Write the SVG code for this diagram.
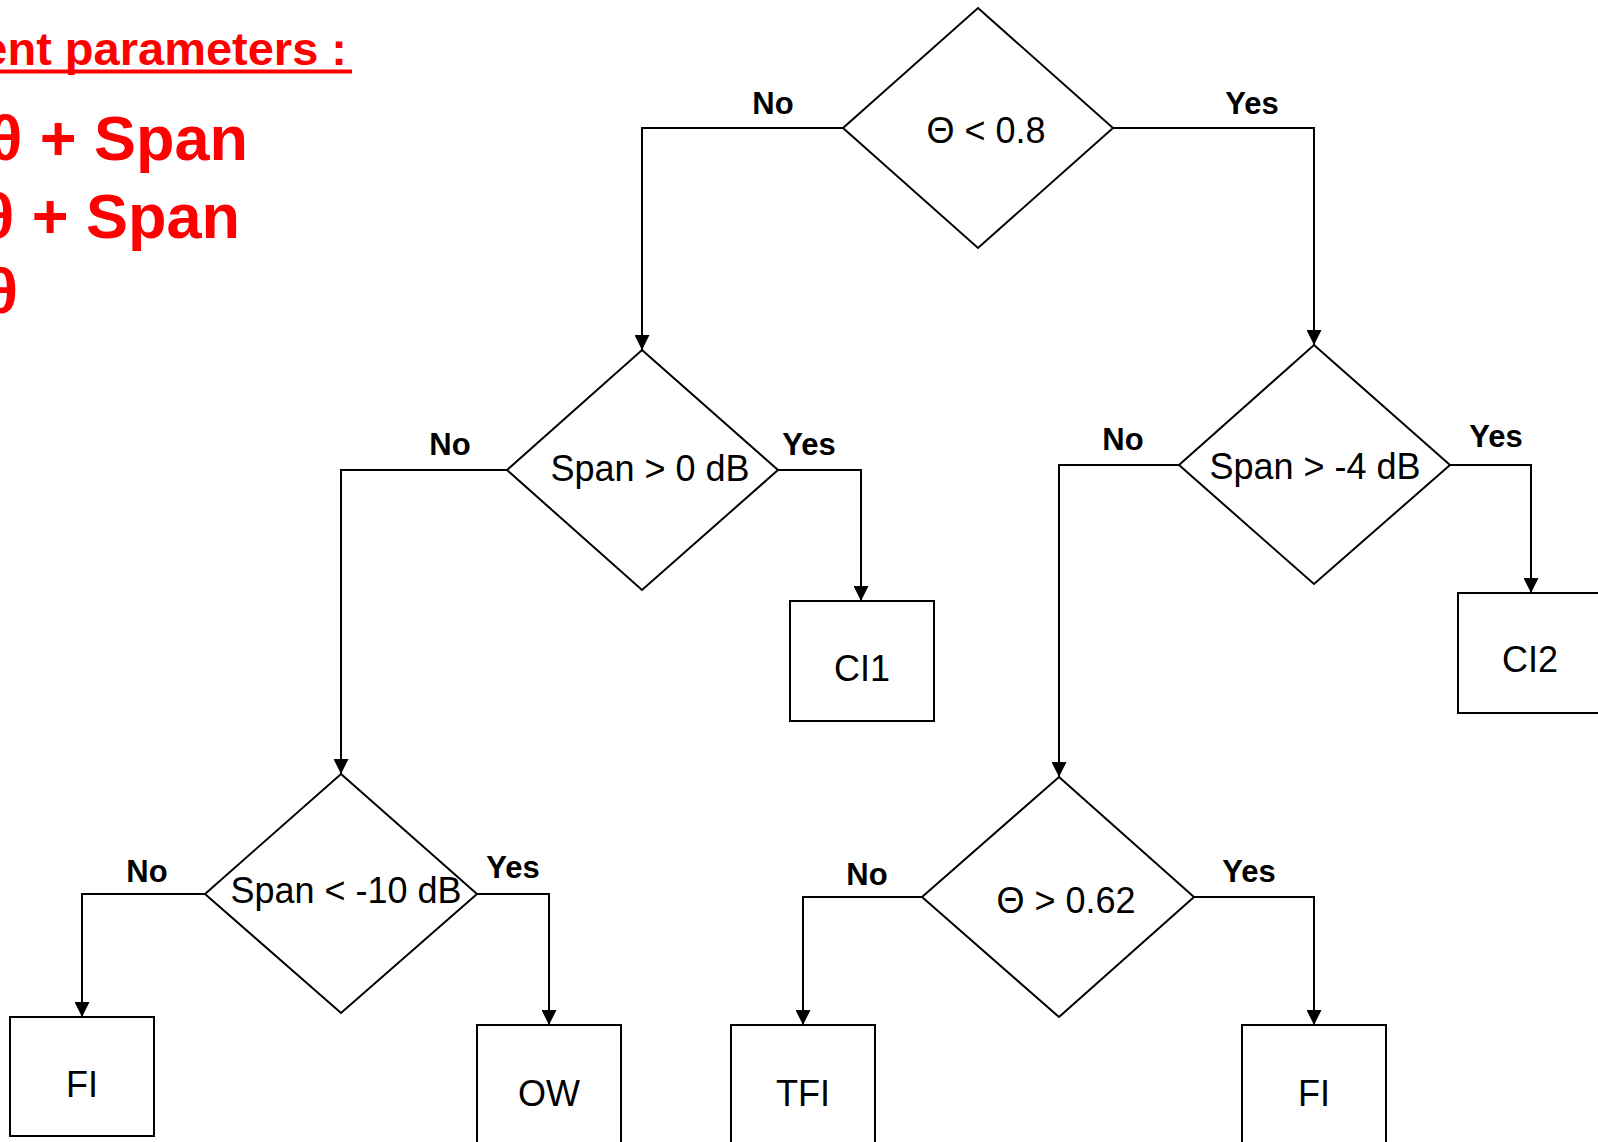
<svg xmlns="http://www.w3.org/2000/svg" width="1598" height="1142" viewBox="0 0 1598 1142">
<style>
.shape{fill:#fff;stroke:#000;stroke-width:2}
.conn{fill:none;stroke:#000;stroke-width:2}
.nt{font-family:"Liberation Sans",Arial,sans-serif;font-size:36px;fill:#000;text-anchor:middle}
.lbl{font-family:"Liberation Sans",Arial,sans-serif;font-size:31px;font-weight:bold;fill:#000;text-anchor:middle}
.red{font-family:"Liberation Sans",Arial,sans-serif;font-weight:bold;fill:#ff0000;text-anchor:end}
</style>
<defs>
<marker id="arr" markerUnits="userSpaceOnUse" markerWidth="15" markerHeight="15" refX="15" refY="7.5" orient="auto">
<path d="M0,0 L15,7.5 L0,15 Z" fill="#000"/>
</marker>
</defs>
<rect width="1598" height="1142" fill="#fff"/>
<g id="legend">
<text class="red" x="347" y="65" font-size="47">ent parameters :</text>
<rect x="0" y="69.5" width="352" height="4" fill="#ff0000"/>
<text class="red" x="248" y="160" font-size="63">θ + Span</text>
<text class="red" x="240" y="238" font-size="63">θ + Span</text>
<text class="red" x="18" y="313" font-size="63">θ</text>
</g>
<g id="connectors">
<path class="conn" d="M843,128 H642 V350" marker-end="url(#arr)"/>
<path class="conn" d="M1113,128 H1314 V345" marker-end="url(#arr)"/>
<path class="conn" d="M507,470 H341 V774" marker-end="url(#arr)"/>
<path class="conn" d="M778,470 H861 V601" marker-end="url(#arr)"/>
<path class="conn" d="M1179,465 H1059 V777" marker-end="url(#arr)"/>
<path class="conn" d="M1450,465 H1531 V593" marker-end="url(#arr)"/>
<path class="conn" d="M205,894 H82 V1017" marker-end="url(#arr)"/>
<path class="conn" d="M477,894 H549 V1025" marker-end="url(#arr)"/>
<path class="conn" d="M922,897 H803 V1025" marker-end="url(#arr)"/>
<path class="conn" d="M1194,897 H1314 V1025" marker-end="url(#arr)"/>
<text class="lbl" x="773" y="114">No</text>
<text class="lbl" x="1252" y="114">Yes</text>
<text class="lbl" x="450" y="455">No</text>
<text class="lbl" x="809" y="455">Yes</text>
<text class="lbl" x="1123" y="450">No</text>
<text class="lbl" x="1496" y="447">Yes</text>
<text class="lbl" x="147" y="882">No</text>
<text class="lbl" x="513" y="878">Yes</text>
<text class="lbl" x="867" y="885">No</text>
<text class="lbl" x="1249" y="882">Yes</text>
</g>
<g id="d1">
<polygon class="shape" points="978,8 1113,128 978,248 843,128"/>
<text class="nt" x="986" y="143">Θ &lt; 0.8</text>
</g>
<g id="d2">
<polygon class="shape" points="642,350 778,470 642,590 507,470"/>
<text class="nt" x="650" y="481">Span &gt; 0 dB</text>
</g>
<g id="d3">
<polygon class="shape" points="1314,345 1450,465 1314,584 1179,465"/>
<text class="nt" x="1315" y="479">Span &gt; -4 dB</text>
</g>
<g id="d4">
<polygon class="shape" points="341,774 477,894 341,1013 205,894"/>
<text class="nt" x="346" y="903">Span &lt; -10 dB</text>
</g>
<g id="d5">
<polygon class="shape" points="1059,777 1194,897 1059,1017 922,897"/>
<text class="nt" x="1066" y="913">Θ &gt; 0.62</text>
</g>
<g id="ci1">
<rect class="shape" x="790" y="601" width="144" height="120"/>
<text class="nt" x="862" y="681">CI1</text>
</g>
<g id="ci2">
<rect class="shape" x="1458" y="593" width="144" height="120"/>
<text class="nt" x="1530" y="672">CI2</text>
</g>
<g id="fi1">
<rect class="shape" x="10" y="1017" width="144" height="119"/>
<text class="nt" x="82" y="1097">FI</text>
</g>
<g id="ow">
<rect class="shape" x="477" y="1025" width="144" height="125"/>
<text class="nt" x="549" y="1106">OW</text>
</g>
<g id="tfi">
<rect class="shape" x="731" y="1025" width="144" height="125"/>
<text class="nt" x="803" y="1106">TFI</text>
</g>
<g id="fi2">
<rect class="shape" x="1242" y="1025" width="144" height="125"/>
<text class="nt" x="1314" y="1106">FI</text>
</g>
</svg>
